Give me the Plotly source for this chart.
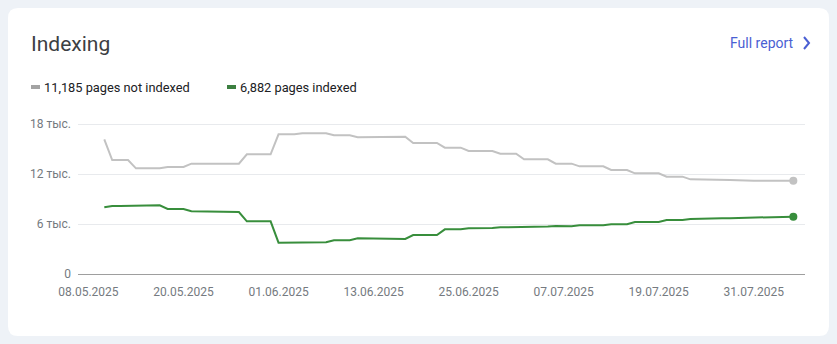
import plotly.graph_objects as go
import pandas as pd

# ---- data (daily values, 10.05.2025 .. 05.08.2025) ----
start_date = "2025-05-10"
not_indexed = [
    16160, 13680, 13680, 13680, 12680, 12680, 12680, 12680, 12840, 12840,
    12840, 13240, 13240, 13240, 13240, 13240, 13240, 13240, 14360, 14360,
    14360, 14360, 16760, 16760, 16760, 16880, 16880, 16880, 16880, 16640,
    16640, 16640, 16400, 16400, 16420, 16440, 16460, 16480, 16480, 15720,
    15720, 15720, 15720, 15160, 15160, 15160, 14760, 14760, 14760, 14760,
    14440, 14440, 14440, 13760, 13760, 13760, 13760, 13240, 13240, 13240,
    12920, 12920, 12920, 12920, 12480, 12480, 12480, 12080, 12080, 12080,
    12080, 11680, 11680, 11680, 11360, 11360, 11360, 11360, 11280, 11280,
    11260, 11200, 11195, 11190, 11190, 11185, 11185, 11185,
]
indexed = [
    8000, 8160, 8160, 8160, 8240, 8240, 8240, 8240, 7800, 7800,
    7800, 7520, 7520, 7520, 7520, 7520, 7440, 7440, 6320, 6320,
    6320, 6320, 3760, 3770, 3780, 3790, 3800, 3800, 3800, 4040,
    4040, 4040, 4280, 4280, 4260, 4240, 4220, 4200, 4200, 4680,
    4680, 4680, 4680, 5360, 5360, 5360, 5480, 5480, 5500, 5520,
    5600, 5600, 5600, 5680, 5680, 5680, 5690, 5760, 5740, 5720,
    5840, 5840, 5840, 5860, 5960, 5960, 5960, 6240, 6240, 6240,
    6240, 6480, 6480, 6480, 6600, 6600, 6600, 6620, 6680, 6700,
    6720, 6800, 6810, 6820, 6840, 6860, 6870, 6882,
]
dates = pd.date_range(start_date, periods=len(indexed), freq="D")

x_tick_dates = ["2025-05-08", "2025-05-20", "2025-06-01", "2025-06-13",
                "2025-06-25", "2025-07-07", "2025-07-19", "2025-07-31"]
y_tick_vals = [0, 6000, 12000, 18000]
y_tick_text = ["0", "6 тыс.", "12 тыс.", "18 тыс."]

title_text = "Indexing"
link_text = "Full report"
label_not_indexed = f"{not_indexed[-1]:,} pages not indexed"
label_indexed = f"{indexed[-1]:,} pages indexed"

GRAY = "#c2c2c2"
GREEN = "#388e3c"
PAGE_BG = "#eef2f7"
BLUE = "#4a5fd3"

# ---- geometry helpers (pixel -> paper) ----
W, H = 837, 344
L, R, T, B = 78, 32, 114, 70
PW, PH = W - L - R, H - T - B


def px(x):
    return (x - L) / PW


def py(y):
    return (H - B - y) / PH


fig = go.Figure()

fig.add_trace(go.Scatter(
    x=dates, y=not_indexed, mode="lines",
    line=dict(color=GRAY, width=2), hoverinfo="skip", showlegend=False))
fig.add_trace(go.Scatter(
    x=dates, y=indexed, mode="lines",
    line=dict(color=GREEN, width=2), hoverinfo="skip", showlegend=False))
# end-point markers
fig.add_trace(go.Scatter(
    x=[dates[-1]], y=[not_indexed[-1]], mode="markers",
    marker=dict(color=GRAY, size=8), hoverinfo="skip", showlegend=False))
fig.add_trace(go.Scatter(
    x=[dates[-1]], y=[indexed[-1]], mode="markers",
    marker=dict(color=GREEN, size=8), hoverinfo="skip", showlegend=False))

# card background with rounded corners
x0, x1, y0, y1 = px(8), px(829), py(336), py(8)
rx, ry = 10 / PW, 10 / PH
card_path = (f"M {x0+rx},{y0} L {x1-rx},{y0} Q {x1},{y0} {x1},{y0+ry} "
             f"L {x1},{y1-ry} Q {x1},{y1} {x1-rx},{y1} "
             f"L {x0+rx},{y1} Q {x0},{y1} {x0},{y1-ry} "
             f"L {x0},{y0+ry} Q {x0},{y0} {x0+rx},{y0} Z")

shapes = [
    dict(type="path", xref="paper", yref="paper", path=card_path,
         fillcolor="white", line=dict(width=0), layer="below"),
    # legend dashes
    dict(type="line", xref="paper", yref="paper",
         x0=px(31), x1=px(40), y0=py(87), y1=py(87),
         line=dict(color="#a3a3a3", width=4)),
    dict(type="line", xref="paper", yref="paper",
         x0=px(227), x1=px(236), y0=py(87), y1=py(87),
         line=dict(color="#3c7f40", width=4)),
    # chevron
    dict(type="path", xref="paper", yref="paper",
         path=f"M {px(804)},{py(37)} L {px(809)},{py(43)} L {px(804)},{py(49)}",
         line=dict(color=BLUE, width=2)),
]

annotations = [
    dict(text=title_text, x=px(29), y=py(44), xref="paper", yref="paper",
         xanchor="left", yanchor="middle", showarrow=False,
         font=dict(family="Roboto", size=21, color="#3c4043")),
    dict(text=link_text, x=px(728), y=py(43), xref="paper", yref="paper",
         xanchor="left", yanchor="middle", showarrow=False,
         font=dict(family="Roboto", size=14, color=BLUE)),
    dict(text=label_not_indexed, x=px(42), y=py(87), xref="paper", yref="paper",
         xanchor="left", yanchor="middle", showarrow=False,
         font=dict(family="Roboto", size=12.8, color="#202124")),
    dict(text=label_indexed, x=px(238), y=py(87), xref="paper", yref="paper",
         xanchor="left", yanchor="middle", showarrow=False,
         font=dict(family="Roboto", size=12.8, color="#202124")),
]

fig.update_layout(
    width=W, height=H,
    margin=dict(l=L, r=R, t=T, b=B, pad=0),
    paper_bgcolor=PAGE_BG, plot_bgcolor="rgba(0,0,0,0)",
    shapes=shapes, annotations=annotations,
    showlegend=False,
    xaxis=dict(
        type="date",
        range=["2025-05-06 16:20", "2025-08-06 11:20"],
        tickvals=x_tick_dates, tickformat="%d.%m.%Y",
        showgrid=False, zeroline=False,
        showline=True, linecolor="#9e9e9e", linewidth=1,
        ticks="", ticklabelstandoff=7,
        tickfont=dict(family="Roboto", size=12, color="#757a80"),
        fixedrange=True,
    ),
    yaxis=dict(
        range=[0, 19200],
        tickvals=y_tick_vals, ticktext=y_tick_text,
        showgrid=True, gridcolor="#e8eaed", gridwidth=1,
        zeroline=False, showline=False,
        ticks="", ticklabelstandoff=6,
        tickfont=dict(family="Roboto", size=12, color="#757a80"),
        fixedrange=True,
    ),
)

fig.write_html("out.html")
